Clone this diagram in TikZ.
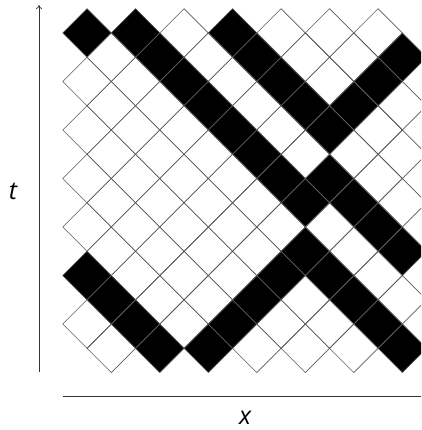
\documentclass[tikz,border=0pt]{standalone}
\usepackage{fontspec}
\setmainfont{Open Sans}
\usetikzlibrary{arrows.meta}
\begin{document}
\begin{tikzpicture}[x=1pt,y=-1pt,
  cellline/.style={draw=black!65, line width=0.7pt},
  blackcell/.style={fill=black},
  axisline/.style={line width=0.7pt, draw=black!80},
  lab/.style={font=\fontsize{25}{28}\selectfont\itshape, inner sep=0pt}]
\useasboundingbox (0,0) rectangle (421,430);
\def\D{24.25}
\begin{scope}
\clip (0,0) rectangle (421,430);
% black cells
\foreach \cc/\jj in {0/0,2/0,6/0, 3/1,7/1,13/1, 4/2,8/2,12/2, 5/3,9/3,11/3, 6/4,10/4, 7/5, 8/6,10/6, 9/7,11/7, 12/8, 9/9,13/9, 0/10,8/10,10/10, 1/11,7/11,11/11, 2/12,6/12,12/12, 3/13,5/13,13/13}{
  \fill[blackcell] ({87+\D*\cc-\D},{33+\D*\jj}) -- ++(\D,-\D) -- ++(\D,\D) -- ++(-\D,\D) -- cycle;
}
% grid
\foreach \jj in {0,...,13}{
  \foreach \kk in {0,...,6}{
    \pgfmathsetmacro\cc{2*\kk+mod(\jj,2)}
    \draw[cellline] ({87+\D*\cc-\D},{33+\D*\jj}) -- ++(\D,-\D) -- ++(\D,\D) -- ++(-\D,\D) -- cycle;
  }
}
\end{scope}
% axes
\coordinate (tbot) at (39,372);
\coordinate (ttop) at (39,5);
\draw[axisline,-{To[length=4pt,width=6pt]}] (tbot) -- (ttop);
\node[lab] (tlab) at (13,191) {t};
\coordinate (xl) at (63,396);
\coordinate (xr) at (421,396);
\draw[axisline] (xl) -- (xr);
\node[lab] (xlab) at (245,418) {x};
\end{tikzpicture}
\end{document}
